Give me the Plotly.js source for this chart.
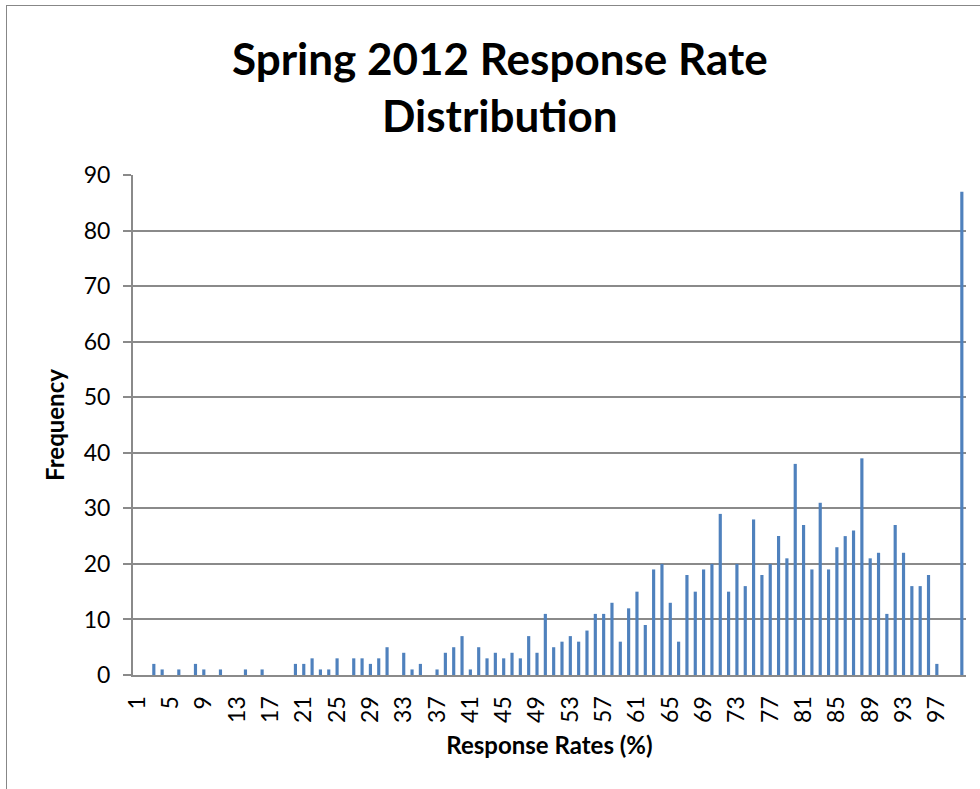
<!DOCTYPE html>
<html>
<head>
<meta charset="utf-8">
<script src="https://cdn.plot.ly/plotly-3.0.1.min.js"></script>
<style>
html,body{margin:0;padding:0;background:#fff;}
#wrap{position:relative;width:980px;height:789px;overflow:hidden;}
#chart{position:absolute;left:0;top:0;width:980px;height:789px;}
#frame{position:absolute;left:6px;top:5px;width:990px;height:800px;border:1.5px solid #878787;pointer-events:none;}
</style>
</head>
<body>
<div id="wrap"><div id="chart"></div><div id="frame"></div></div>
<script>
// Response rate categories (1..100 %)
const categories = [
 "1","2","3","4","5","6","7","8","9","10",
 "11","12","13","14","15","16","17","18","19","20",
 "21","22","23","24","25","26","27","28","29","30",
 "31","32","33","34","35","36","37","38","39","40",
 "41","42","43","44","45","46","47","48","49","50",
 "51","52","53","54","55","56","57","58","59","60",
 "61","62","63","64","65","66","67","68","69","70",
 "71","72","73","74","75","76","77","78","79","80",
 "81","82","83","84","85","86","87","88","89","90",
 "91","92","93","94","95","96","97","98","99","100"
];
// Frequency per category
const frequency = [
 0,0,2,1,0,1,0,2,1,0,
 1,0,0,1,0,1,0,0,0,2,
 2,3,1,1,3,0,3,3,2,3,
 5,0,4,1,2,0,1,4,5,7,
 1,5,3,4,3,4,3,7,4,11,
 5,6,7,6,8,11,11,13,6,12,
 15,9,19,20,13,6,18,15,19,20,
 29,15,20,16,28,18,20,25,21,38,
 27,19,31,19,23,25,26,39,21,22,
 11,27,22,16,16,18,2,0,0,87
];
const tickLabels = ["1","5","9","13","17","21","25","29","33","37","41","45","49","53","57","61","65","69","73","77","81","85","89","93","97"];
const yTicks = [0,10,20,30,40,50,60,70,80,90];

const font = "Lato, 'Open Sans', sans-serif";
const grid = "#8a8a8a";

const trace = {
  type: "bar",
  x: categories,
  y: frequency,
  marker: {color: "#4F81BD"},
  hoverinfo: "x+y"
};

const layout = {
  width: 980, height: 789,
  margin: {l: 132.5, r: 14.2, t: 175, b: 114},
  paper_bgcolor: "#fff", plot_bgcolor: "#fff",
  bargap: 0.62,
  showlegend: false,
  title: {
    text: "<b>Spring 2012 Response Rate<br>Distribution</b>",
    font: {family: font, size: 44, color: "#000"},
    x: 0.51, xanchor: "center", xref: "container",
    y: 0.905, yanchor: "middle", yref: "container"
  },
  xaxis: {
    type: "category",
    categoryorder: "array", categoryarray: categories,
    tickmode: "array", tickvals: tickLabels, ticktext: tickLabels,
    tickangle: -90,
    tickfont: {family: font, size: 23, color: "#000"},
    showgrid: false,
    showline: true, linecolor: grid, linewidth: 2,
    ticks: "", zeroline: false,
    ticklabelstandoff: 10,
    title: {text: "<b>Response Rates (%)</b>", font: {family: font, size: 24, color: "#000"}, standoff: 15}
  },
  yaxis: {
    range: [0, 90],
    tickmode: "array", tickvals: yTicks,
    tickfont: {family: font, size: 23, color: "#000"},
    showgrid: true, gridcolor: grid, gridwidth: 2,
    showline: true, linecolor: grid, linewidth: 2,
    ticks: "outside", ticklen: 8, tickcolor: grid, tickwidth: 2,
    zeroline: false,
    ticklabelstandoff: 8,
    title: {text: "<b>Frequency</b>", font: {family: font, size: 24, color: "#000"}, standoff: 12}
  }
};

Plotly.newPlot("chart", [trace], layout, {displayModeBar: false, staticPlot: true});
</script>
</body>
</html>
